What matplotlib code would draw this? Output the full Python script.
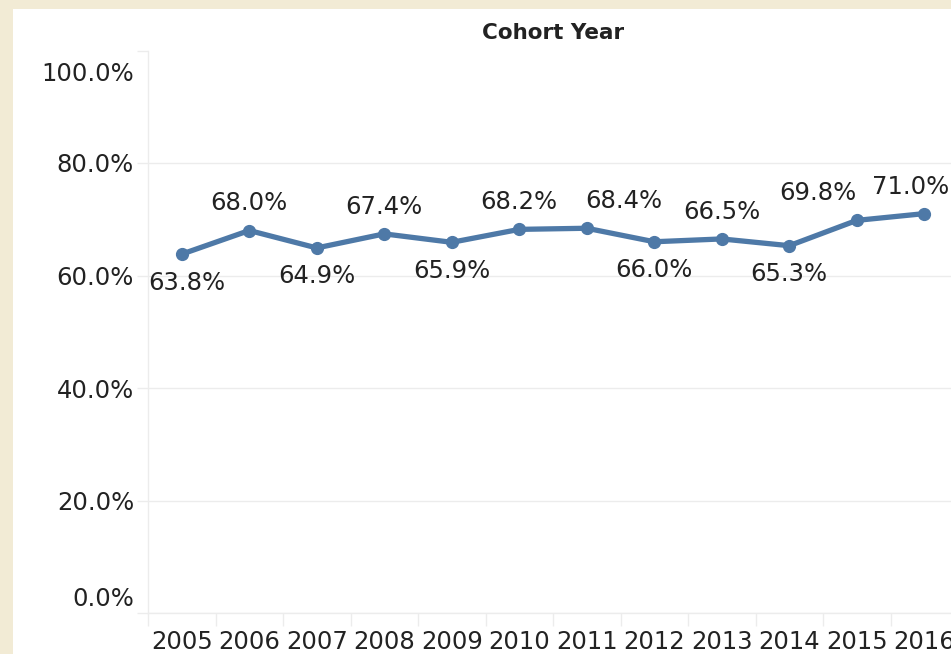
import matplotlib.pyplot as plt
from matplotlib.patches import Rectangle
from matplotlib.transforms import ScaledTranslation

# data
years = [2005, 2006, 2007, 2008, 2009, 2010, 2011, 2012, 2013, 2014, 2015, 2016]
rates = [63.8, 68.0, 64.9, 67.4, 65.9, 68.2, 68.4, 66.0, 66.5, 65.3, 69.8, 71.0]
y_ticks = [0, 20, 40, 60, 80, 100]

# label placement (style only): side and sideways nudge in points
label_side = ['below', 'above', 'below', 'above', 'below', 'above',
              'above', 'below', 'above', 'below', 'above', 'above']
label_nudge = [3.5, 0, 0, 0, 0, 0, 26.5, 0, 0, 0, -28, -9.5]

W, H = 951, 654
fig = plt.figure(figsize=(W / 100, H / 100), dpi=100)
fig.patch.set_facecolor('#f2ebd5')
fig.patches.append(Rectangle((13 / W, 0), 1, (H - 9) / H, transform=fig.transFigure,
                             facecolor='white', edgecolor='none', zorder=-10))

# axes in pixel coords (right edge runs past the picture, as in the original)
left, right, top, bottom = 148, 958, 50.5, 613
ax = fig.add_axes([left / W, (H - bottom) / H, (right - left) / W, (bottom - top) / H])
ax.set_facecolor('none')

grid_c = '#ececec'
text_c = '#222222'
line_c = '#4e79a7'

x = list(range(len(years)))
ax.plot(x, rates, color=line_c, linewidth=3.8, marker='o', markersize=8.5,
        solid_capstyle='round', zorder=3, clip_on=False)

for xi, v, side, dx in zip(x, rates, label_side, label_nudge):
    dy = 19.5 if side == 'above' else -20.5
    ax.annotate(f'{v:.1f}%', (xi, v), textcoords='offset points', xytext=(dx, dy),
                ha='center', va='center', fontsize=17.5, color=text_c)

ax.set_xlim(-0.5, len(years) - 0.5)
ax.set_ylim(0, 100)

ax.set_yticks(y_ticks)
ax.set_yticklabels([f'{t:.1f}%' for t in y_ticks], fontsize=17.5, color=text_c)
ax.tick_params(axis='y', length=8, width=1, color=grid_c, pad=2)
# pull the end labels inside, like the original
lbls = ax.get_yticklabels()
lbls[0].set_transform(lbls[0].get_transform() + ScaledTranslation(0, 0.16, fig.dpi_scale_trans))
lbls[-1].set_transform(lbls[-1].get_transform() + ScaledTranslation(0, -0.21, fig.dpi_scale_trans))

ax.set_xticks(x)
ax.set_xticklabels([str(y) for y in years], fontsize=17.5, color=text_c)
ax.tick_params(axis='x', which='major', length=0, pad=12)
ax.set_xticks([i - 0.5 for i in range(len(years) + 1)], minor=True)
ax.tick_params(axis='x', which='minor', length=9, width=1, color=grid_c)

ax.grid(axis='y', color=grid_c, linewidth=1)
ax.yaxis.get_gridlines()[-1].set_visible(False)
ax.set_axisbelow(True)
for s in ['top', 'right']:
    ax.spines[s].set_visible(False)
for s in ['left', 'bottom']:
    ax.spines[s].set_color(grid_c)
    ax.spines[s].set_linewidth(1)

fig.text((left + right) / 2 / W, 1 - 33 / H, 'Cohort Year', ha='center', va='center',
         fontsize=15.5, fontweight='bold', color=text_c)

fig.savefig('out.png', dpi=100, facecolor=fig.get_facecolor())
